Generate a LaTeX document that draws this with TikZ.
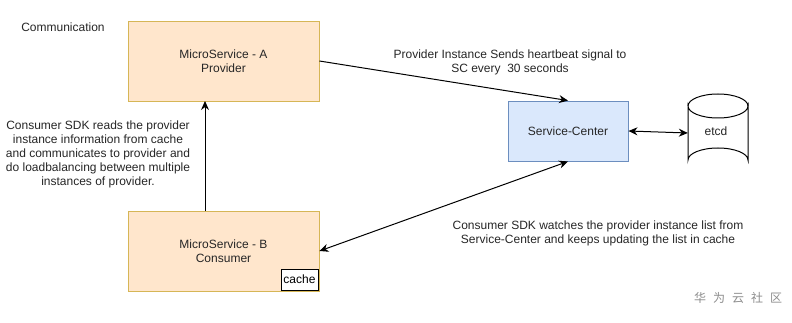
\documentclass[tikz,border=0pt]{standalone}
\usepackage{fontspec}
\setmainfont{Liberation Sans}
\newfontfamily\cjk{Noto Sans CJK SC}
\usetikzlibrary{arrows.meta}
\definecolor{peach}{HTML}{FFE6CC}
\definecolor{peachb}{HTML}{D6B656}
\definecolor{sky}{HTML}{DAE8FC}
\definecolor{skyb}{HTML}{6C8EBF}
\tikzset{
  txt/.style={font=\fontsize{12}{14}\selectfont, text=black!85, align=center, inner sep=0pt},
  msbox/.style={draw=peachb, fill=peach, minimum width=191pt, minimum height=80pt, inner sep=0pt, line width=0.9pt},
  scbox/.style={draw=skyb, fill=sky, minimum width=120pt, minimum height=60pt, inner sep=0pt, line width=0.9pt},
  conn/.style={line width=1pt, -{Stealth[length=9pt,width=8pt]}},
  dconn/.style={line width=1pt, {Stealth[length=9pt,width=8pt]}-{Stealth[length=9pt,width=8pt]}},
}
\begin{document}
\begin{tikzpicture}[x=1pt,y=-1pt]
\useasboundingbox (0,0) rectangle (792,323);
\node[txt] (comm) at (63,27) {Communication};
\node[msbox, txt] (A) at (223.5,61) {MicroService - A\\Provider};
\node[msbox, txt] (B) at (223.5,251) {MicroService - B\\Consumer};
\node[draw, fill=white, line width=0.9pt, minimum width=37pt, minimum height=21pt, inner sep=0pt, font=\fontsize{12}{14}\selectfont] (cache) at (299.5,279.5) {cache};
\node[scbox, txt] (SC) at (568,131) {Service-Center};
% etcd cylinder drawn directly
\draw[line width=1pt, fill=white] (688,106) -- (688,160) arc[start angle=180, end angle=360, x radius=30, y radius=12] -- (748,106) arc[start angle=0, end angle=180, x radius=30, y radius=12] -- cycle;
\draw[line width=1pt] (688,106) arc[start angle=180, end angle=360, x radius=30, y radius=12];
\node[minimum width=60pt, minimum height=78pt, inner sep=0pt] (etcd) at (718,133) {};
\node[txt] (etcdl) at (716,131) {etcd};
\node[txt] (lbl1) at (98,154) {Consumer SDK reads the provider\\instance information from cache\\and communicates to provider and\\do loadbalancing between multiple\\instances of provider.};
\node[txt] (lbl2) at (510,62) {Provider Instance Sends heartbeat signal to\\SC every\ \ 30 seconds};
\node[txt] (lbl3) at (598,233) {Consumer SDK watches the provider instance list from\\Service-Center and keeps updating the list in cache};
\node[font=\cjk\fontsize{12}{14}\selectfont, text=black!45, inner sep=0pt] (wm) at (738,298) {华\hspace{7pt}为\hspace{7pt}云\hspace{7pt}社\hspace{7pt}区};
\coordinate (bt) at (205,211);
\coordinate (at) at (205,101);
\draw[conn] (bt) -- (at);
\draw[conn] (A.east) -- (SC.north);
\draw[dconn] (SC.east) -- (etcd.west);
\draw[dconn] (SC.south) -- (B.east);
\end{tikzpicture}
\end{document}
